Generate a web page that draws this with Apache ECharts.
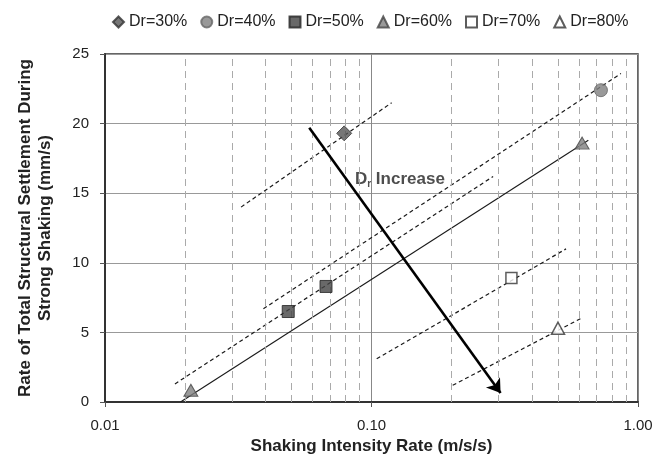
<!DOCTYPE html>
<html>
<head>
<meta charset="utf-8">
<script src="https://cdn.jsdelivr.net/npm/echarts@6/dist/echarts.min.js"></script>
<style>
  html, body { margin: 0; padding: 0; background: #fff; }
  #chart { width: 668px; height: 466px; }
</style>
</head>
<body>
<div id="chart"></div>
<script>
// Measured points: [shaking intensity rate (m/s/s), settlement rate (mm/s)]
const seriesNames = ['Dr=30%', 'Dr=40%', 'Dr=50%', 'Dr=60%', 'Dr=70%', 'Dr=80%'];
const dr30 = [[0.079, 19.3]];
const dr40 = [[0.726, 22.4]];
const dr50 = [[0.0487, 6.5], [0.0675, 8.3]];
const dr60 = [[0.021, 0.85], [0.617, 18.6]];
const dr70 = [[0.335, 8.9]];
const dr80 = [[0.501, 5.3]];

// Trend line end points for each relative density
const trend30 = [[0.0324, 14.0], [0.119, 21.5]];
const trend40 = [[0.0393, 6.7], [0.863, 23.6]];
const trend50 = [[0.0183, 1.3], [0.286, 16.2]];
const trend60 = [[0.0192, 0], [0.651, 18.8]];
const trend70 = [[0.1046, 3.1], [0.537, 11.0]];
const trend80 = [[0.2017, 1.2], [0.61, 6.0]];

// "Dr Increase" arrow and its caption
const arrowLine = [[0.0584, 19.7], [0.305, 0.65]];
const captionAt = [0.0867, 16.0];

// Intermediate log-decade grid lines
const minorGrid = [0.02, 0.03, 0.04, 0.05, 0.06, 0.07, 0.08, 0.09,
                   0.2, 0.3, 0.4, 0.5, 0.6, 0.7, 0.8, 0.9];

const FONT = 'Liberation Sans, Arial, sans-serif';

const markerStyles = [
  { symbol: 'diamond', symbolSize: 15, itemStyle: { color: '#555555', borderColor: '#333', borderWidth: 1 } },
  { symbol: 'circle', symbolSize: 13, itemStyle: { color: '#808080', borderColor: '#666', borderWidth: 1 } },
  { symbol: 'rect', symbolSize: 12, itemStyle: { color: '#444444', borderColor: '#222', borderWidth: 1 } },
  { symbol: 'triangle', symbolSize: [14, 12], itemStyle: { color: '#808080', borderColor: '#444', borderWidth: 1 } },
  { symbol: 'rect', symbolSize: 11, itemStyle: { color: '#ffffff', borderColor: '#333', borderWidth: 1.5 } },
  { symbol: 'triangle', symbolSize: [13, 12], itemStyle: { color: '#ffffff', borderColor: '#333', borderWidth: 1.5 } }
];
const pointSets = [dr30, dr40, dr50, dr60, dr70, dr80];

function trendSeries(data, solid) {
  return {
    type: 'line',
    data: data,
    symbol: 'none',
    silent: true,
    z: 3,
    lineStyle: { color: '#1a1a1a', width: solid ? 1.1 : 1.2, type: solid ? 'solid' : [4, 3] }
  };
}

const series = [];

// vertical dashed grid at 2..9 of each decade
series.push({
  type: 'line',
  data: [],
  silent: true,
  z: 1,
  markLine: {
    silent: true,
    symbol: ['none', 'none'],
    label: { show: false },
    lineStyle: { color: '#aaaaaa', width: 1, type: [7, 5] },
    data: minorGrid.map(v => ({ xAxis: v }))
  }
});

[trend30, trend40, trend50, trend70, trend80].forEach(t => series.push(trendSeries(t, false)));
series.push(trendSeries(trend60, true));

// "Dr Increase" arrow
series.push({
  type: 'line',
  data: [],
  silent: true,
  z: 4,
  markLine: {
    silent: true,
    symbol: ['none', 'arrow'],
    symbolSize: 13,
    label: { show: false },
    itemStyle: { color: '#000' },
    lineStyle: { color: '#000', width: 2.6, type: 'solid' },
    data: [[{ coord: arrowLine[0] }, { coord: arrowLine[1] }]]
  }
});

// caption beside the arrow
series.push({
  type: 'scatter',
  data: [captionAt],
  symbolSize: 0,
  silent: true,
  z: 4,
  label: {
    show: true,
    position: 'right',
    distance: 0,
    formatter: '{a|D}{b|r}{a| Increase}',
    rich: {
      a: { fontFamily: FONT, fontSize: 17, fontWeight: 'bold', color: '#222', lineHeight: 20 },
      b: { fontFamily: FONT, fontSize: 10, fontWeight: 'bold', color: '#222', verticalAlign: 'bottom', lineHeight: 12, padding: [8, 0, 0, 0] }
    }
  }
});

seriesNames.forEach((name, i) => {
  series.push(Object.assign({
    name: name,
    type: 'scatter',
    data: pointSets[i],
    z: 5
  }, markerStyles[i]));
});

const chart = echarts.init(document.getElementById('chart'), null, { renderer: 'canvas' });
chart.setOption({
  animation: false,
  backgroundColor: '#ffffff',
  textStyle: { fontFamily: FONT },
  legend: {
    data: seriesNames,
    top: 9,
    left: 107,
    itemWidth: 11,
    itemHeight: 11,
    itemGap: 13,
    textStyle: { fontFamily: FONT, fontSize: 16, color: '#222' }
  },
  grid: {
    left: 105, right: 30, top: 54, bottom: 64,
    show: true,
    borderColor: '#333',
    borderWidth: 1.5,
    containLabel: false
  },
  xAxis: {
    type: 'log',
    logBase: 10,
    min: 0.01,
    max: 1,
    name: 'Shaking Intensity Rate (m/s/s)',
    nameLocation: 'middle',
    nameGap: 30,
    nameTextStyle: { fontFamily: FONT, fontSize: 17, fontWeight: 'bold', color: '#222' },
    axisLine: { show: true, lineStyle: { color: '#333', width: 2 } },
    axisTick: { show: true, length: 5, lineStyle: { color: '#555' } },
    axisLabel: {
      fontFamily: FONT, fontSize: 15, color: '#222', margin: 16,
      formatter: v => Number(v).toFixed(2)
    },
    splitLine: { show: true, lineStyle: { color: '#888', width: 1 } },
    minorTick: { show: false },
    minorSplitLine: { show: false }
  },
  yAxis: {
    type: 'value',
    min: 0,
    max: 25,
    interval: 5,
    name: 'Rate of Total Structural Settlement During\nStrong Shaking (mm/s)',
    nameLocation: 'middle',
    nameGap: 50,
    nameTextStyle: { fontFamily: FONT, fontSize: 17, fontWeight: 'bold', color: '#222', lineHeight: 20 },
    axisLine: { show: true, lineStyle: { color: '#333', width: 2 } },
    axisTick: { show: true, length: 5, lineStyle: { color: '#555' } },
    axisLabel: { fontFamily: FONT, fontSize: 15, color: '#222', margin: 16 },
    splitLine: { show: true, lineStyle: { color: '#999', width: 1 } }
  },
  series: series
});
</script>
</body>
</html>
